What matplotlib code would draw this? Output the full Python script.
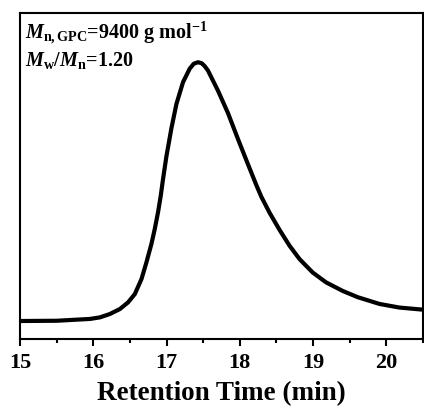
import matplotlib
matplotlib.use("Agg")
import matplotlib.pyplot as plt
from matplotlib.ticker import MultipleLocator

plt.rcParams['font.family'] = 'Liberation Serif'
plt.rcParams['font.weight'] = 'bold'
plt.rcParams['mathtext.fontset'] = 'custom'
plt.rcParams['mathtext.rm'] = 'Liberation Serif:bold'
plt.rcParams['mathtext.it'] = 'Liberation Serif:italic:bold'
plt.rcParams['mathtext.bf'] = 'Liberation Serif:bold'

# Retention time (min) and normalized detector signal
time_min = [15.0, 15.5, 15.954, 16.090, 16.226, 16.362, 16.475, 16.567,
            16.658, 16.726, 16.794, 16.839, 16.884, 16.921, 16.952, 16.999,
            17.067, 17.135, 17.225, 17.316, 17.371, 17.429, 17.48, 17.52,
            17.565, 17.702, 17.838, 17.974, 18.110, 18.225, 18.293, 18.406,
            18.542, 18.678, 18.815, 18.996, 19.178, 19.405, 19.609, 19.905,
            20.177, 20.490]
signal = [0.0, 0.001, 0.008, 0.014, 0.027, 0.046, 0.072, 0.104,
          0.162, 0.227, 0.298, 0.355, 0.420, 0.484, 0.548, 0.637,
          0.745, 0.838, 0.922, 0.974, 0.993, 0.999, 0.995, 0.984,
          0.967, 0.889, 0.803, 0.703, 0.606, 0.525, 0.480, 0.418,
          0.352, 0.291, 0.239, 0.187, 0.149, 0.116, 0.092, 0.066,
          0.052, 0.044]

xticks = [15, 16, 17, 18, 19, 20]

fig = plt.figure(figsize=(4.24, 4.14), dpi=100)
ax = fig.add_axes([0.0472, 0.1787, 0.9504, 0.7875])
ax.plot(time_min, signal, color='black', lw=3.0, solid_joinstyle='round',
        solid_capstyle='round')
ax.set_xlim(15, 20.5)
ax.set_ylim(-0.0695, 1.189)
ax.set_xticks(xticks)
ax.set_xticklabels([str(t) for t in xticks])
ax.xaxis.set_minor_locator(MultipleLocator(0.5))
ax.set_yticks([])
ax.tick_params(axis='x', which='major', direction='out', length=5, width=1.5,
               labelsize=16, pad=4)
ax.tick_params(axis='x', which='minor', direction='out', length=3, width=1.5)
for s in ax.spines.values():
    s.set_linewidth(1.5)
ax.set_xlabel('Retention Time (min)', fontsize=19.5, fontweight='bold', labelpad=6)

ax.text(0.012, 0.925, r'$\mathit{M}_{\mathrm{n,GPC}}$=9400 g mol$^{\mathrm{-1}}$',
        transform=ax.transAxes, fontsize=14.5, fontweight='bold', ha='left',
        va='baseline')
ax.text(0.012, 0.842, r'$\mathit{M}_{\mathrm{w}}$/$\mathit{M}_{\mathrm{n}}$=1.20',
        transform=ax.transAxes, fontsize=14.5, fontweight='bold', ha='left',
        va='baseline')

fig.savefig('out.png', dpi=100)
